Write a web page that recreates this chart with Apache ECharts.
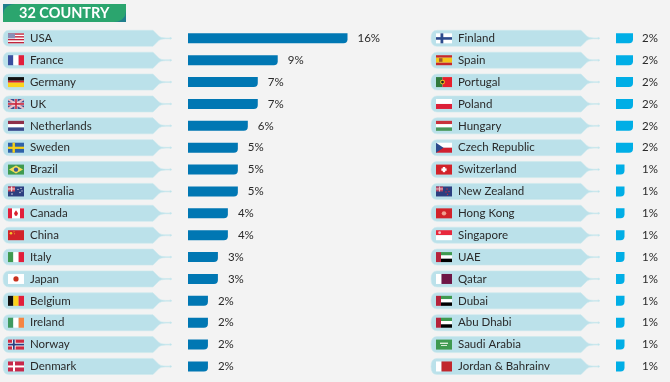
<!DOCTYPE html>
<html><head><meta charset="utf-8">
<style>html,body{margin:0;padding:0;background:#f3f3f3}#c{width:670px;height:382px}</style>
<script src="https://cdn.jsdelivr.net/npm/echarts@6/dist/echarts.min.js"></script></head>
<body><div id="c"></div>
<script>
var titleText = '32 COUNTRY';
var leftCountries = ['USA','France','Germany','UK','Netherlands','Sweden','Brazil','Australia','Canada','China','Italy','Japan','Belgium','Ireland','Norway','Denmark'];
var leftValues = [16,9,7,7,6,5,5,5,4,4,3,3,2,2,2,2];
var rightCountries = ['Finland','Spain','Portugal','Poland','Hungary','Czech Republic','Switzerland','New Zealand','Hong Kong','Singapore','UAE','Qatar','Dubai','Abu Dhabi','Saudi Arabia','Jordan & Bahrainv'];
var rightValues = [2,2,2,2,2,2,1,1,1,1,1,1,1,1,1,1];

var FONT = 'Lato, sans-serif';
function R(x,y,w,h,c){return {type:'rect',shape:{x:x,y:y,width:w,height:h},style:{fill:c}};}
function H(a,b,c){return [R(0,0,16,3.4,a),R(0,3.3,16,3.4,b),R(0,6.6,16,3.4,c)];}
function V(a,b,c){return [R(0,0,5.4,10,a),R(5.3,0,5.4,10,b),R(10.6,0,5.4,10,c)];}
function P(pts,c){return {type:'polygon',shape:{points:pts},style:{fill:c}};}
function C(x,y,r,c){return {type:'circle',shape:{cx:x,cy:y,r:r},style:{fill:c}};}
function UAE(){return [R(0,0,5,10,'#b5243c'),R(5,0,11,3.4,'#3f9a50'),R(5,3.3,11,3.4,'#fff'),R(5,6.6,11,3.4,'#000')];}
var flags = {
 'USA':[R(0,0,16,10,'#fff'),R(0,0,16,1.4,'#c0243c'),R(0,2.8,16,1.4,'#c0243c'),R(0,5.6,16,1.4,'#c0243c'),R(0,8.6,16,1.4,'#c0243c'),R(0,0,7,5,'#8a90b8')],
 'France':V('#3a4f9f','#fff','#e21f3b'),
 'Germany':[R(0,0,16,3.6,'#111'),R(0,3.6,16,2,'#d8202f'),R(0,5.6,16,4.4,'#fbd31c')],
 'UK':[R(0,0,16,10,'#3a4a8c'),P([[0,0],[2,0],[16,8.6],[16,10],[14,10],[0,1.4]],'#e8c0c8'),P([[16,0],[14,0],[0,8.6],[0,10],[2,10],[16,1.4]],'#e8c0c8'),R(0,3.5,16,3,'#f4dce0'),R(6.5,0,3,10,'#f4dce0'),R(0,4.2,16,1.6,'#c8243c'),R(7.2,0,1.6,10,'#c8243c')],
 'Netherlands':H('#8e2f4a','#fff','#3a4a8c'),
 'Sweden':[R(0,0,16,10,'#2f62a8'),R(0,4,16,2.2,'#f7d117'),R(4.5,0,2.4,10,'#f7d117')],
 'Brazil':[R(0,0,16,10,'#3f9a50'),P([[8,1],[15,5],[8,9],[1,5]],'#f5dd5a'),C(8,5,2.2,'#3a5a90')],
 'Australia':[R(0,0,16,10,'#2c3f80'),R(0,0,7,5,'#c8485a'),R(3,0,1.2,5,'#f4dce0'),R(0,2,7,1,'#f4dce0'),C(4,7.5,.8,'#e8e8f0'),C(10,3,.6,'#e8e8f0'),C(13,2,.6,'#e8e8f0'),C(12,6,.7,'#e8e8f0'),C(14,4.5,.6,'#e8e8f0')],
 'Canada':[R(0,0,16,10,'#fff'),R(0,0,4,10,'#e21f3b'),R(12,0,4,10,'#e21f3b'),P([[8,2],[10,5],[9,7.5],[7,7.5],[6,5]],'#d8202f')],
 'China':[R(0,0,16,10,'#d2232a'),C(3,3,1.3,'#f4c92a'),C(6,1.5,.5,'#f4c92a'),C(6.6,3.6,.5,'#f4c92a')],
 'Italy':V('#3f9a50','#fff','#e21f3b'),
 'Japan':[R(0,0,16,10,'#fff'),C(8,5,2.6,'#c8321e')],
 'Belgium':V('#111','#fbd31c','#e21f3b'),
 'Ireland':V('#3f9a60','#fff','#f58542'),
 'Norway':[R(0,0,16,10,'#d02c42'),R(0,3.2,16,3.6,'#fff'),R(4,0,3.6,10,'#fff'),R(0,4.1,16,1.8,'#2c3f80'),R(4.9,0,1.8,10,'#2c3f80')],
 'Denmark':[R(0,0,16,10,'#c8284a'),R(0,4,16,2,'#fff'),R(5,0,2,10,'#fff')],
 'Finland':[R(0,0,16,10,'#fff'),R(0,3.8,16,2.6,'#2c4a8c'),R(4.5,0,2.8,10,'#2c4a8c')],
 'Spain':[R(0,0,16,2.5,'#c8282c'),R(0,2.5,16,5,'#f5c518'),R(0,7.5,16,2.5,'#c8282c'),R(3,3,3.5,3.6,'#a05a2c')],
 'Portugal':[R(0,0,6.5,10,'#2f7a3c'),R(6.5,0,9.5,10,'#e8202c'),C(6.5,5,2.4,'#f2c81c'),C(6.5,5,1.4,'#222')],
 'Poland':[R(0,0,16,5,'#fff'),R(0,5,16,5,'#dc2038')],
 'Hungary':H('#c8323c','#fff','#48985a'),
 'Czech Republic':[R(0,0,16,5,'#fff'),R(0,5,16,5,'#d0202f'),P([[0,0],[7.5,5],[0,10]],'#2c4a8c')],
 'Switzerland':[R(0,0,16,10,'#d2232a'),R(6.8,2.4,2.4,5.2,'#fff'),R(5.4,3.8,5.2,2.4,'#fff')],
 'New Zealand':[R(0,0,16,10,'#2c3f80'),R(0,0,7,5,'#b84a68'),R(3,0,1,5,'#e8c0c8'),R(0,2,7,1,'#e8c0c8'),C(11,2.5,.7,'#d02c42'),C(13,5,.7,'#d02c42'),C(10,5.5,.7,'#d02c42'),C(11.5,8,.7,'#d02c42')],
 'Hong Kong':[R(0,0,16,10,'#d2232a'),C(8,5,2.2,'#f0a090')],
 'Singapore':[R(0,0,16,5,'#e8283c'),R(0,5,16,5,'#fff'),C(3.6,2.5,1.4,'#f8c0c4')],
 'UAE':UAE(),
 'Qatar':[R(0,0,5.5,10,'#fff'),R(5.5,0,10.5,10,'#6e1645')],
 'Dubai':UAE(),
 'Abu Dhabi':UAE(),
 'Saudi Arabia':[R(0,0,16,10,'#3f9a50'),R(4,3,8,1.4,'#d8ecd8'),R(5,5.4,6,.9,'#e8f4e8')],
 'Jordan & Bahrainv':[R(0,0,5.5,10,'#fff'),R(5.5,0,10.5,10,'#c1272d')]
};

var PILL = 'M6,0 L150,0 L156,6 Q158,7.6 163,7.6 L167,7.6 L167,7 L169,8 L167,9 L167,8.4 L163,8.4 Q158,8.4 156,10 L150,16 L6,16 Q0,16 0,8 Q0,0 6,0 Z';

function chrome(countries, side){
  return {
    type:'custom', xAxisIndex:side, yAxisIndex:side, z:1, silent:true, clip:false,
    data: countries.map(function(c,i){return [0,i];}), encode:{x:0,y:1},
    renderItem:function(params,api){
      var c = api.coord([0, params.dataIndex]);
      var name = countries[params.dataIndex];
      return {type:'group',x:c[0]-185,y:c[1],children:[
        {type:'path',y:-8,shape:{pathData:PILL,x:0,y:0,width:169,height:16},style:{fill:'#bbe1ea',stroke:'#cde9ef',lineWidth:.6}},
        {type:'group',x:5,y:-5,children:flags[name]}
      ]};
    }
  };
}
var option = {
  backgroundColor:'#f3f3f3', animation:false,
  grid:[
    {left:188,top:27.4,width:159.5,height:350},
    {left:616,top:27.4,width:17,height:350}
  ],
  xAxis:[
    {gridIndex:0,type:'value',min:0,max:16,show:false},
    {gridIndex:1,type:'value',min:0,max:2,show:false}
  ],
  yAxis:[0,1].map(function(i){return {
    gridIndex:i,type:'category',inverse:true,z:10,
    data:i?rightCountries:leftCountries,
    axisLine:{show:false},axisTick:{show:false},splitLine:{show:false},
    axisLabel:{interval:0,align:'left',margin:158,fontFamily:FONT,fontSize:11.5,color:'#2a2a2a'}
  };}),
  series:[
    chrome(leftCountries,0),
    chrome(rightCountries,1),
    {type:'bar',xAxisIndex:0,yAxisIndex:0,data:leftValues,barWidth:10,z:3,
     itemStyle:{color:'#0077b3',borderRadius:[0,0,4,0]},
     label:{show:true,position:'right',distance:10,formatter:'{c}%',fontFamily:FONT,fontSize:11.5,color:'#2a2a2a'}},
    {type:'bar',xAxisIndex:1,yAxisIndex:1,data:rightValues,barWidth:10,z:3,
     itemStyle:{color:'#00aee6',borderRadius:[0,0,4,0]}},
    {type:'custom',xAxisIndex:1,yAxisIndex:1,z:4,silent:true,clip:false,
     data:rightValues.map(function(v,i){return [v,i];}),encode:{x:0,y:1},
     renderItem:function(params,api){
       var c=api.coord([2,params.dataIndex]);
       return {type:'text',x:c[0]+25,y:c[1],style:{text:api.value(0)+'%',textAlign:'right',textVerticalAlign:'middle',fontFamily:FONT,fontSize:11.5,fill:'#2a2a2a'}};
     }}
  ],
  graphic:[
    {type:'rect',shape:{x:3,y:4,width:123,height:18},style:{fill:'#1f7e8c'},z:5},
    {type:'polygon',shape:{points:[[3,22],[3,15],[4,10],[7,6.5],[11,4.6],[15,4],[126,4],[126,11],[125,16],[122,19.5],[118,21.4],[114,22]]},style:{fill:'#2ba56e'},z:6},
    {type:'text',x:19,y:13.5,z:7,style:{text:titleText,fontFamily:FONT,fontSize:14.5,fontWeight:'bold',fill:'#fff',textVerticalAlign:'middle'}}
  ]
};
var chart = echarts.init(document.getElementById('c'));
chart.setOption(option);
</script></body></html>
